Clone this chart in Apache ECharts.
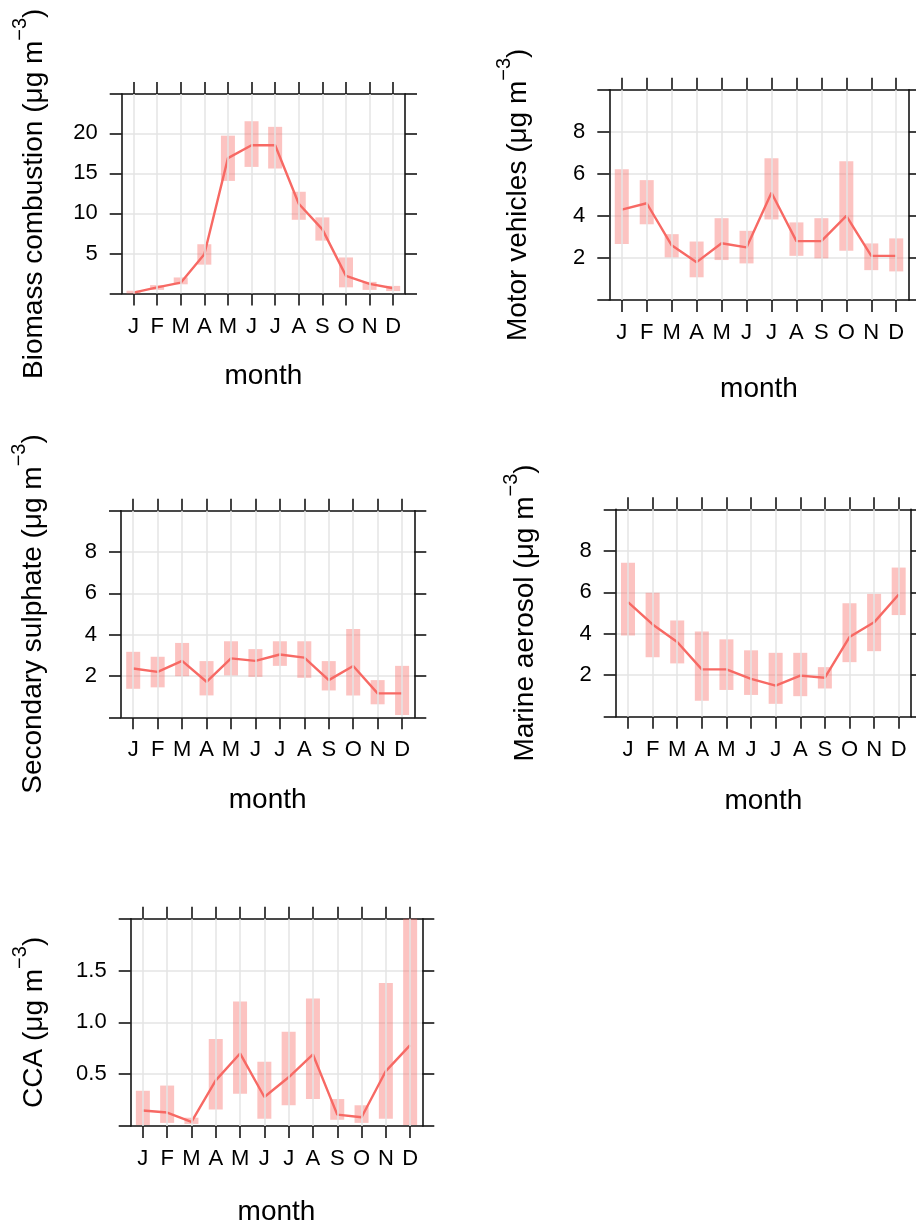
<!DOCTYPE html>
<html>
<head>
<meta charset="utf-8">
<script src="https://cdn.jsdelivr.net/npm/echarts@6/dist/echarts.min.js"></script>
<style>
html,body{margin:0;padding:0;background:#fff;}
#chart{width:916px;height:1227px;}
</style>
</head>
<body>
<div id="chart"></div>
<script>
// ---- data ----
const months = ['Jan','Feb','Mar','Apr','May','Jun','Jul','Aug','Sep','Oct','Nov','Dec'];

const biomassMean  = [0.1, 0.77, 1.35, 4.9, 16.9, 18.5, 18.5, 11.2, 8.0, 2.2, 1.2, 0.65];
const biomassLower = [0.0, 0.45, 1.15, 3.6, 14.05, 15.8, 15.6, 9.2, 6.6, 0.77, 0.45, 0.3];
const biomassUpper = [0.35, 1.05, 2.0, 6.15, 19.7, 21.5, 20.8, 12.7, 9.5, 4.5, 1.45, 0.95];

const motorMean  = [4.3, 4.6, 2.6, 1.8, 2.7, 2.5, 5.1, 2.8, 2.8, 4.0, 2.1, 2.1];
const motorLower = [2.66, 3.6, 2.03, 1.08, 1.9, 1.74, 3.83, 2.1, 1.98, 2.34, 1.42, 1.36];
const motorUpper = [6.22, 5.7, 3.13, 2.78, 3.89, 3.29, 6.74, 3.69, 3.89, 6.6, 2.69, 2.93];

const sulphateMean  = [2.36, 2.2, 2.73, 1.72, 2.85, 2.73, 3.04, 2.89, 1.8, 2.48, 1.16, 1.16];
const sulphateLower = [1.38, 1.45, 1.99, 1.06, 2.03, 1.96, 2.49, 1.91, 1.3, 1.06, 0.63, 0.11];
const sulphateUpper = [3.17, 2.93, 3.6, 2.72, 3.68, 3.3, 3.68, 3.68, 2.72, 4.28, 1.8, 2.49];

const marineMean  = [5.52, 4.45, 3.6, 2.28, 2.28, 1.82, 1.5, 1.98, 1.88, 3.84, 4.55, 5.89];
const marineLower = [3.92, 2.87, 2.57, 0.77, 1.29, 1.05, 0.62, 0.99, 1.36, 2.63, 3.16, 4.9];
const marineUpper = [7.42, 5.98, 4.64, 4.11, 3.73, 3.2, 3.08, 3.08, 2.39, 5.47, 5.92, 7.19];

const ccaMean  = [0.15, 0.13, 0.04, 0.44, 0.70, 0.28, 0.47, 0.69, 0.11, 0.085, 0.53, 0.78];
const ccaLower = [0.01, 0.03, 0.02, 0.16, 0.31, 0.07, 0.20, 0.26, 0.06, 0.03, 0.07, 0.01];
const ccaUpper = [0.34, 0.39, 0.08, 0.84, 1.20, 0.62, 0.91, 1.23, 0.26, 0.20, 1.38, 2.05];

const yTitles = ['Biomass combustion', 'Motor vehicles', 'Secondary sulphate', 'Marine aerosol', 'CCA'];
const xTitle = 'month';

// ---- layout / style ----
const FONT = 'Liberation Sans, Arial, sans-serif';
const LINE_COLOR = 'rgb(247,105,100)';
const BAND_COLOR = 'rgba(247,105,100,0.4)';
const AXIS_COLOR = '#151515';
const GRID_COLOR = '#e4e4e4';

const richName = {
  m:{fontFamily:FONT, fontSize:28, lineHeight:38, color:'#000', verticalAlign:'bottom'},
  s:{fontFamily:FONT, fontSize:20, lineHeight:20, color:'#000', verticalAlign:'top'}
};

const panels = [
  {box:[121.7, 94, 283.3, 199.5], y:[0, 24.9, 5], dec:0, mean:biomassMean, lo:biomassLower, hi:biomassUpper, title:yTitles[0], gapY:73, gapX:69},
  {box:[609.3, 89.7, 299.4, 210.3], y:[0, 10, 2], dec:0, mean:motorMean, lo:motorLower, hi:motorUpper, title:yTitles[1], gapY:77, gapX:75},
  {box:[121, 510.7, 293.3, 206.6], y:[0, 10, 2], dec:0, mean:sulphateMean, lo:sulphateLower, hi:sulphateUpper, title:yTitles[2], gapY:74, gapX:69},
  {box:[615.7, 509.3, 295.3, 207.4], y:[0, 10, 2], dec:0, mean:marineMean, lo:marineLower, hi:marineUpper, title:yTitles[3], gapY:76, gapX:71},
  {box:[130.7, 918.7, 291.6, 209], y:[0, 2, 0.5], dec:1, mean:ccaMean, lo:ccaLower, hi:ccaUpper, title:yTitles[4], gapY:82, gapX:72}
];

const grid = [], xAxis = [], yAxis = [], series = [];

panels.forEach((p, i) => {
  grid.push({left:p.box[0], top:p.box[1], width:p.box[2], height:p.box[3], containLabel:false, show:false});
  const tickStyle = {show:true, inside:false, length:12, alignWithLabel:true, interval:0, lineStyle:{color:AXIS_COLOR, width:1.6}};
  const lineStyle = {show:true, onZero:false, lineStyle:{color:AXIS_COLOR, width:1.6}};
  xAxis.push({
    type:'category', gridIndex:i, data:months, position:'bottom', boundaryGap:true,
    axisLine:lineStyle, axisTick:tickStyle,
    axisLabel:{show:true, interval:0, margin:22, formatter:v => v.charAt(0), fontFamily:FONT, fontSize:22, color:'#000'},
    splitLine:{show:false},
    name:xTitle, nameLocation:'middle', nameGap:p.gapX,
    nameTextStyle:{fontFamily:FONT, fontSize:28, color:'#000'}
  });
  xAxis.push({
    type:'category', gridIndex:i, data:months, position:'top', boundaryGap:true,
    axisLine:lineStyle, axisTick:tickStyle, axisLabel:{show:false}, splitLine:{show:false}
  });
  const yMin = p.y[0], yMax = p.y[1], yInt = p.y[2];
  const fmt = v => (v > yMin + 1e-6 && v < yMax - 1e-6 && Math.abs(v / yInt - Math.round(v / yInt)) < 1e-6) ? v.toFixed(p.dec) : '';
  yAxis.push({
    type:'value', gridIndex:i, position:'left', min:yMin, max:yMax, interval:yInt,
    axisLine:lineStyle,
    axisTick:{show:true, inside:false, length:12, lineStyle:{color:AXIS_COLOR, width:1.6}},
    axisLabel:{show:true, margin:24, formatter:fmt, fontFamily:FONT, fontSize:22, color:'#000', showMinLabel:true, showMaxLabel:true},
    splitLine:{show:true, lineStyle:{color:GRID_COLOR, width:1.5}},
    name:'{m|' + p.title + ' (μg m}{s|−3}{m|)}', nameLocation:'middle', nameRotate:90, nameGap:p.gapY,
    nameTextStyle:{fontFamily:FONT, color:'#000', rich:richName}
  });
  yAxis.push({
    type:'value', gridIndex:i, position:'right', min:yMin, max:yMax, interval:yInt,
    axisLine:lineStyle,
    axisTick:{show:true, inside:false, length:12, lineStyle:{color:AXIS_COLOR, width:1.6}},
    axisLabel:{show:false}, splitLine:{show:false}
  });
  const xi = 2 * i, yi = 2 * i;
  series.push({
    type:'bar', xAxisIndex:xi, yAxisIndex:yi, stack:'band' + i, barWidth:14, z:1,
    itemStyle:{color:'rgba(0,0,0,0)'}, silent:true,
    data:p.lo,
    markLine:{silent:true, symbol:'none', label:{show:false}, animation:false,
      lineStyle:{color:GRID_COLOR, width:1.5, type:'solid'},
      data:months.map(m => ({xAxis:m}))}
  });
  series.push({
    type:'bar', xAxisIndex:xi, yAxisIndex:yi, stack:'band' + i, barWidth:14, z:2,
    itemStyle:{color:BAND_COLOR}, silent:true,
    data:p.hi.map((h, k) => +(h - p.lo[k]).toFixed(4))
  });
  series.push({
    type:'line', xAxisIndex:xi, yAxisIndex:yi, z:3, data:p.mean,
    showSymbol:false, symbol:'none', smooth:false,
    lineStyle:{color:LINE_COLOR, width:2.4}, itemStyle:{color:LINE_COLOR}
  });
});

const chart = echarts.init(document.getElementById('chart'), null, {renderer:'canvas'});
chart.setOption({
  animation:false,
  backgroundColor:'#fff',
  textStyle:{fontFamily:FONT},
  grid, xAxis, yAxis, series
});
</script>
</body>
</html>
